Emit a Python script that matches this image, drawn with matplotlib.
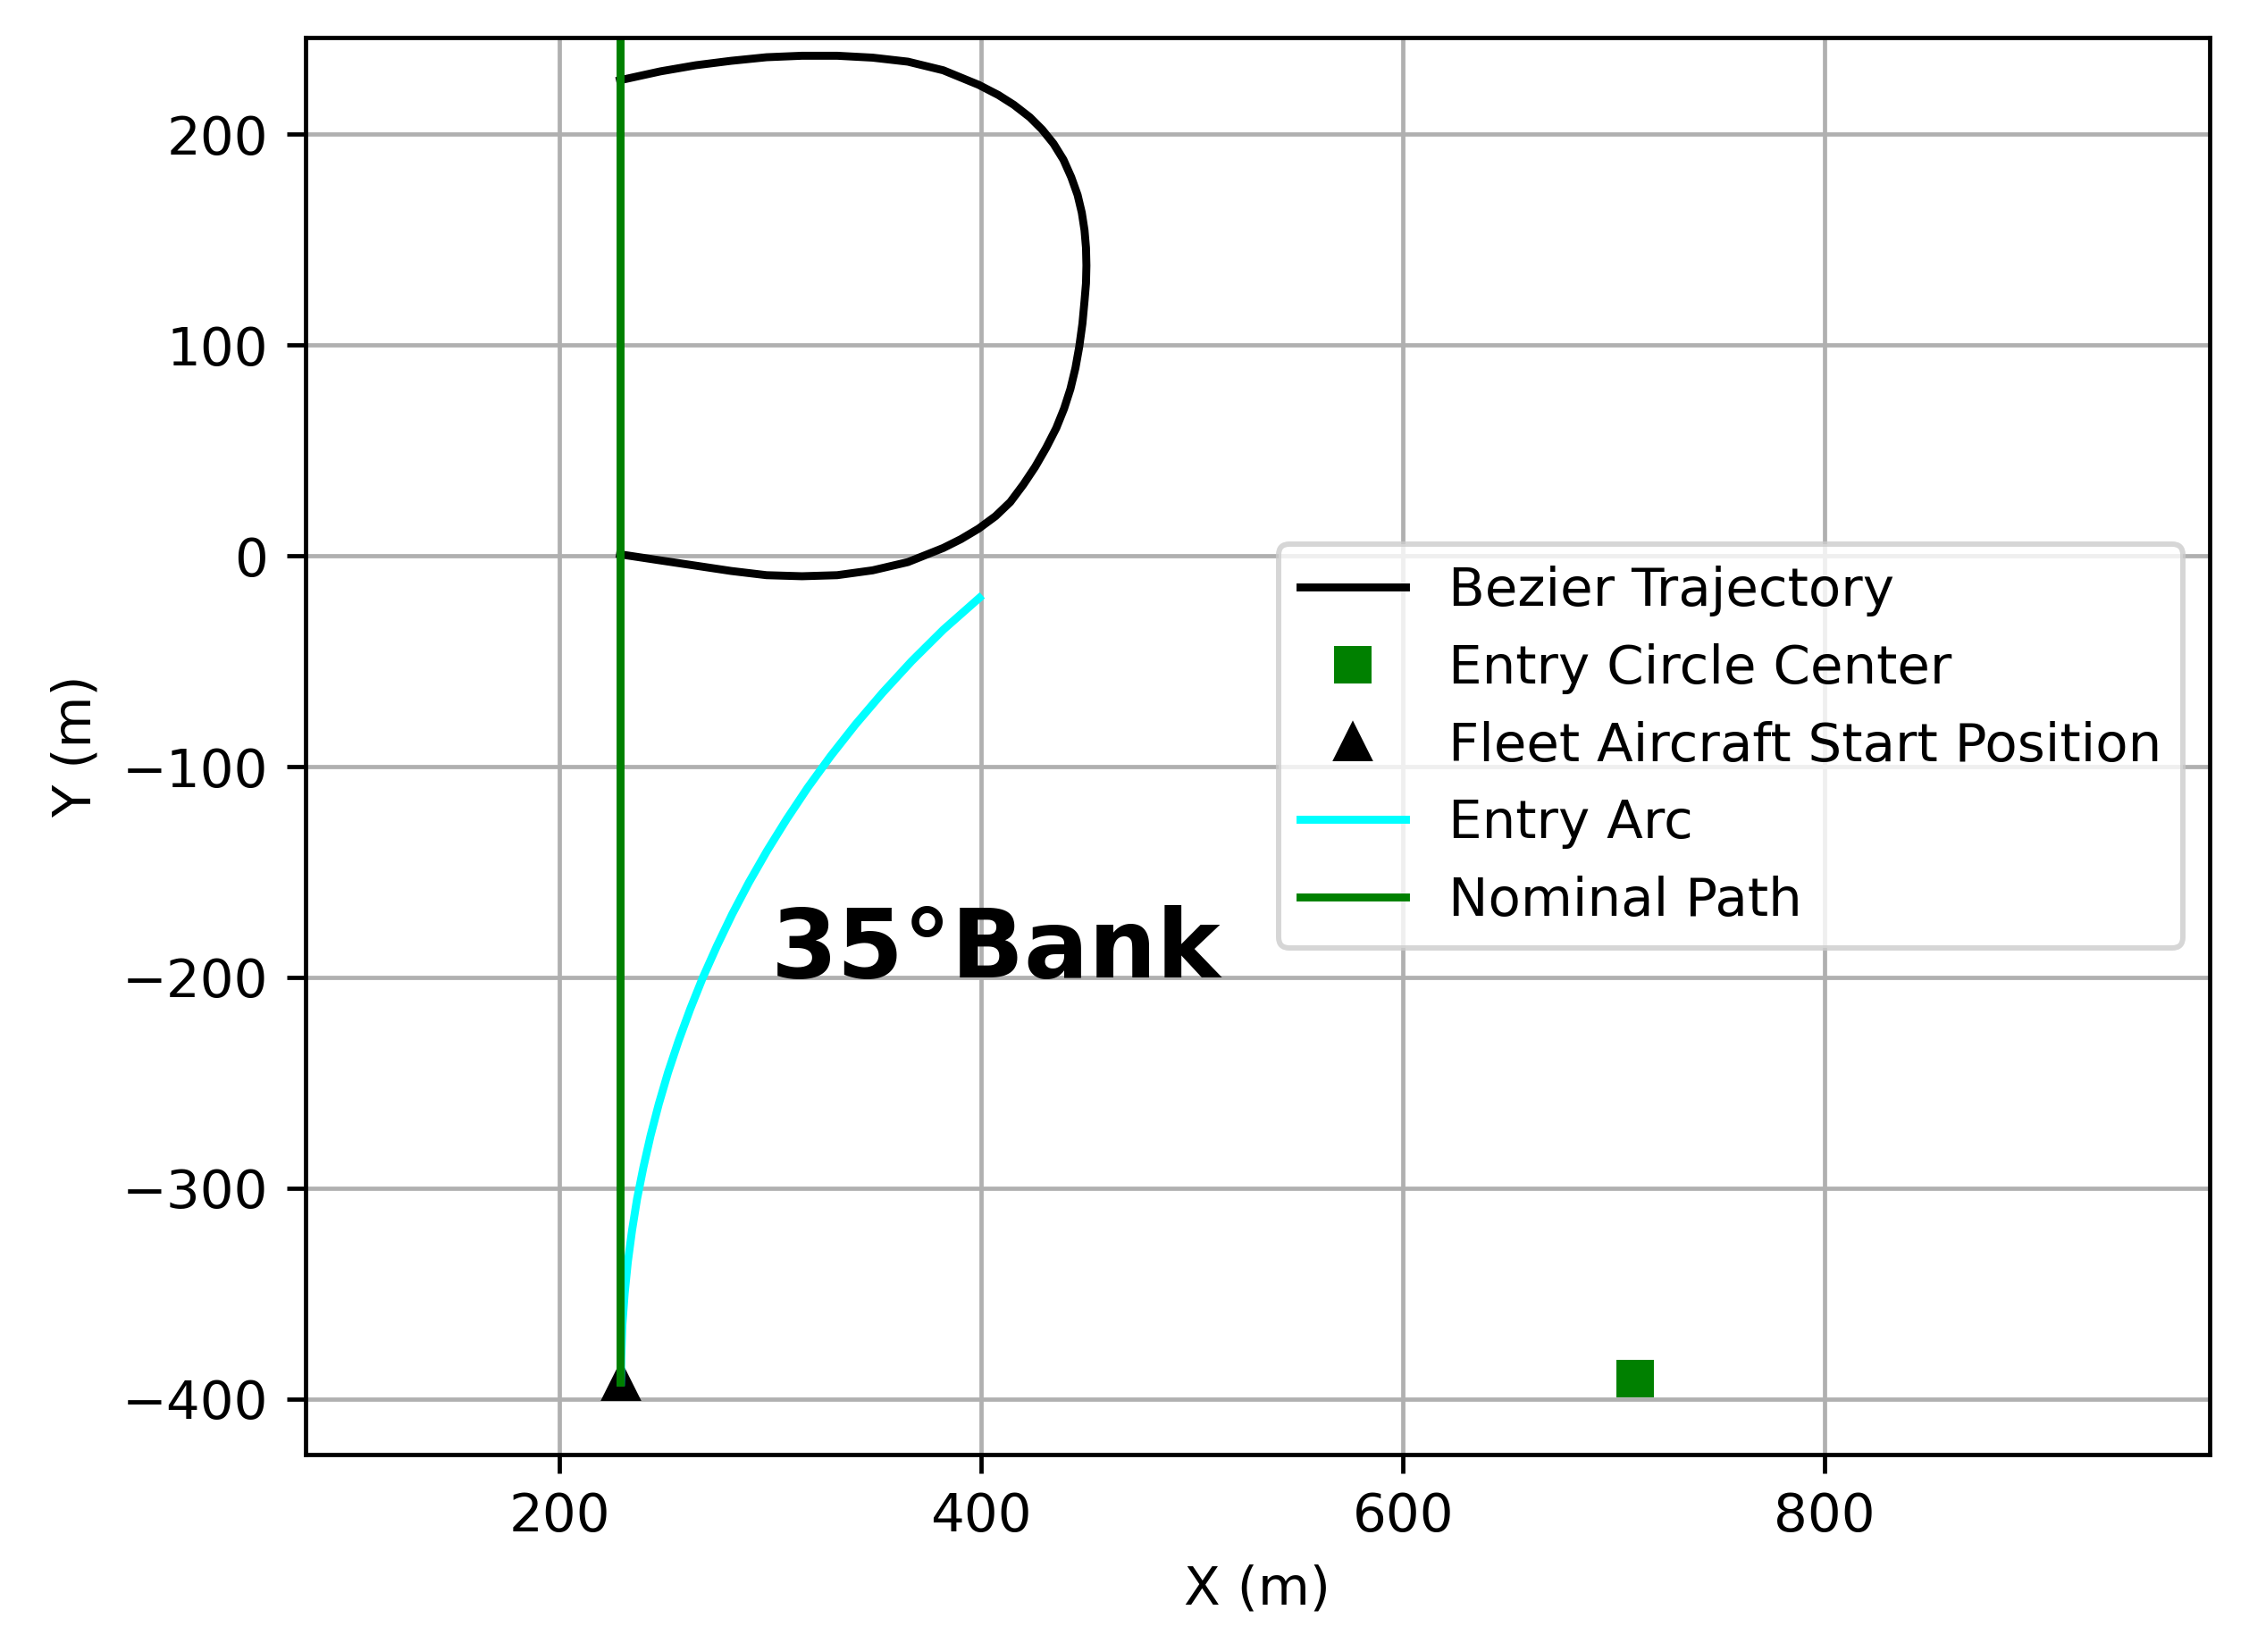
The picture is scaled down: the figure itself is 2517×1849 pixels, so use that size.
import matplotlib
matplotlib.use('Agg')
import matplotlib.pyplot as plt

# Bezier trajectory (m), from the exit point round to the entry
bez_x = [228.6, 247.8, 264.6, 281.3, 298.1, 314.9, 331.6, 348.4, 365.1, 381.9,
         398.7, 408.0, 415.4, 423.0, 428.8, 434.2, 438.9, 442.6, 445.6, 447.6,
         448.9, 449.6, 449.8, 449.6, 448.9, 447.9, 446.4, 444.6, 442.2, 439.2,
         435.5, 430.8, 425.5, 419.9, 413.7, 406.7, 398.7, 390.3, 381.9, 365.1,
         348.4, 331.6, 314.9, 298.1, 281.3, 264.6, 247.8, 228.6]
bez_y = [225.6, 229.8, 232.7, 234.8, 236.5, 237.2, 237.2, 236.3, 234.4, 230.3,
         223.4, 218.6, 213.9, 208.0, 202.2, 195.5, 187.9, 179.6, 171.2, 162.8,
         154.4, 146.1, 137.7, 129.3, 120.9, 110.1, 99.2, 89.1, 79.1, 69.8,
         60.6, 51.4, 42.2, 33.8, 25.5, 18.8, 12.9, 7.9, 3.7, -3.0,
         -6.9, -9.2, -9.7, -9.2, -7.2, -4.7, -2.2, 0.7]

# entry arc from the start position up to the trajectory
arc_x = [229.0, 229.2, 229.7, 230.8, 232.3, 234.3, 236.7, 239.7, 243.1, 247.0,
         251.4, 256.4, 261.9, 267.9, 274.6, 281.8, 289.7, 298.3, 307.6, 317.6,
         328.5, 340.3, 353.1, 366.9, 382.0, 399.0]
arc_y = [-392.0, -380.0, -365.0, -350.0, -335.0, -320.0, -305.0, -290.0, -275.0, -260.0,
         -245.0, -230.0, -215.0, -200.0, -185.0, -170.0, -155.0, -140.0, -125.0, -110.0,
         -95.0, -80.0, -65.0, -50.0, -35.0, -20.0]

# nominal straight-in path
nom_x = [228.5, 228.5]
nom_y = [-392.0, 300.0]

center_x, center_y = 710.0, -390.5
start_x, start_y = 229.0, -392.0

fig = plt.figure(figsize=(2517 / 428, 1849 / 428), dpi=428)
ax = fig.add_axes([0.1359, 0.1197, 0.8465, 0.8574])

ax.plot(bez_x, bez_y, 'k-', label='Bezier Trajectory')
ax.plot(center_x, center_y, 'gs', label='Entry Circle Center')
ax.plot(start_x, start_y, 'k^', label='Fleet Aircraft Start Position')
ax.plot(arc_x, arc_y, color='cyan', label='Entry Arc')
ax.plot(nom_x, nom_y, 'g-', label='Nominal Path')

ax.text(300, -200, '35°Bank', fontsize=18, fontweight='bold')

ax.set_xlim(79.5, 982.4)
ax.set_ylim(-426.2, 245.7)
ax.set_xlabel('X (m)')
ax.set_ylabel('Y (m)')
ax.grid(True)
ax.legend(loc='center right')

fig.savefig('out.png', dpi=428)
